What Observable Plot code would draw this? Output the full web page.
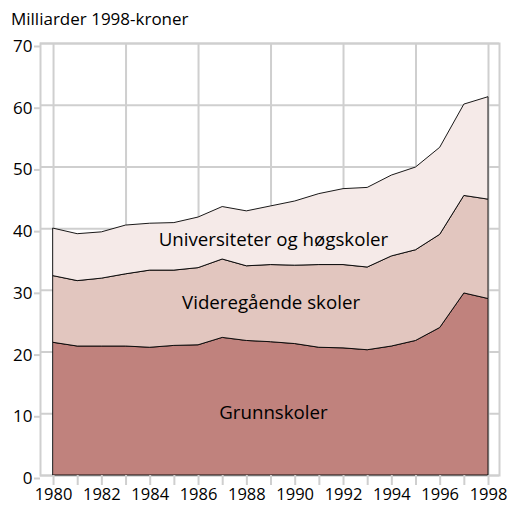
<!DOCTYPE html>
<html>
<head>
<meta charset="utf-8">
<script src="https://cdn.jsdelivr.net/npm/d3@7"></script>
<script src="https://cdn.jsdelivr.net/npm/@observablehq/plot@0.6"></script>
<style>
  html, body { margin: 0; padding: 0; background: #fff; }
  #wrap { position: relative; width: 507px; height: 506px; font-family: "Open Sans", sans-serif; }
  #title { position: absolute; left: 11px; top: 9px; font-size: 17px; line-height: 20px; color: #000; }
  #chart { position: absolute; left: 0; top: 0; }
</style>
</head>
<body>
<div id="wrap">
  <div id="chart"></div>
  <div id="title">Milliarder 1998-kroner</div>
</div>
<script>
const years = [1980,1981,1982,1983,1984,1985,1986,1987,1988,1989,1990,1991,1992,1993,1994,1995,1996,1997,1998];
const seriesNames = ["Grunnskoler", "Videregående skoler", "Universiteter og høgskoler"];
const grunnskoler   = [21.5,20.9,20.9,20.9,20.7,21.0,21.1,22.3,21.8,21.6,21.3,20.7,20.6,20.3,20.9,21.8,23.9,29.5,28.6];
const videregaende  = [10.8,10.6,11.0,11.7,12.5,12.2,12.5,12.7,12.1,12.5,12.7,13.4,13.5,13.4,14.6,14.7,15.1,15.8,16.1];
const universiteter = [7.7,7.6,7.5,7.9,7.6,7.7,8.2,8.5,8.9,9.5,10.4,11.5,12.3,12.9,13.1,13.4,14.1,14.8,16.6];
const yTicks = [0,10,20,30,40,50,60,70];
const xLabelYears = [1980,1982,1984,1986,1988,1990,1992,1994,1996,1998];
const xGridYears = [1980,1983,1986,1989,1992,1995,1998];
const labelYear = [1989.1, 1989.0, 1989.1];
const labelValue = [10.2, 27.9, 38.2];
const colors = ["#c0827d", "#e2c6bf", "#f5eae8"];

const valuesBySeries = [grunnskoler, videregaende, universiteter];
const table = [];
seriesNames.forEach((s, i) => years.forEach((y, j) => table.push({series: s, year: y, value: valuesBySeries[i][j]})));
const labels = seriesNames.map((s, i) => ({label: s, year: labelYear[i], value: labelValue[i]}));

const gray = "#cfcfcf";
const chart = Plot.plot({
  width: 507,
  height: 506,
  marginTop: 43,
  marginBottom: 31,
  marginLeft: 40,
  marginRight: 8,
  style: {fontFamily: "'Open Sans', sans-serif", fontSize: "17px", color: "#000", background: "#fff"},
  x: {domain: [1979.46, 1998.455]},
  y: {domain: [0, 70]},
  color: {domain: seriesNames, range: colors},
  marks: [
    Plot.gridX(xGridYears, {stroke: gray, strokeOpacity: 1, strokeWidth: 2}),
    Plot.gridY(yTicks, {stroke: gray, strokeOpacity: 1, strokeWidth: 2}),
    Plot.frame({stroke: gray, strokeWidth: 2}),
    Plot.areaY(table, {x: "year", y: "value", z: "series", fill: "series", stroke: "#000", strokeWidth: 0.9, order: seriesNames}),
    Plot.axisY(yTicks, {tickSize: 6, tickPadding: 2, stroke: gray, strokeWidth: 2, fill: "#000", dy: 3, fontSize: 17, label: null}),
    Plot.axisX(years, {tickSize: 10, tickPadding: 3, stroke: gray, strokeWidth: 2, fill: "#000", fontSize: 16.5, label: null,
      tickFormat: d => xLabelYears.includes(d) ? String(d) : ""}),
    Plot.text(labels, {x: "year", y: "value", text: "label", fontSize: 18.7, fill: "#000"})
  ]
});
document.getElementById("chart").appendChild(chart);
</script>
</body>
</html>
